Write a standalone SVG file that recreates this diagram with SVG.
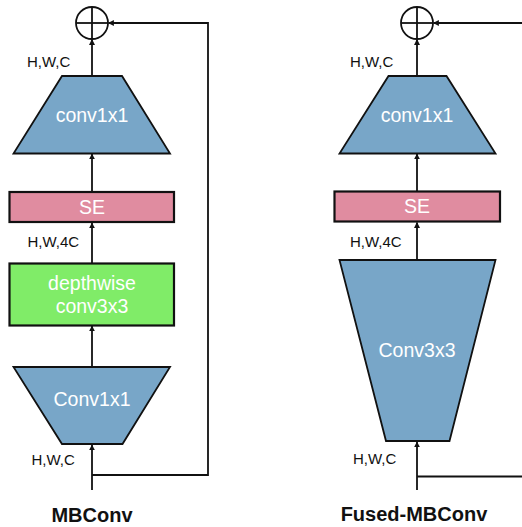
<svg xmlns="http://www.w3.org/2000/svg" width="522" height="527" viewBox="0 0 522 527">
<defs>
<marker id="ah" viewBox="0 0 10 10" refX="9" refY="5" markerWidth="6" markerHeight="6" markerUnits="userSpaceOnUse" orient="auto">
<path d="M0,0 L10,5 L0,10 z" fill="#111"/>
</marker>
<style>
.blk{fill:none;stroke:#111;stroke-width:1.8}
.conn{fill:none;stroke:#111;stroke-width:1.8;marker-end:url(#ah)}
.trap{fill:#78a6c8;stroke:#111;stroke-width:1.8}
.se{fill:#e08ca0;stroke:#111;stroke-width:2.2}
.dw{fill:#80ec68;stroke:#111;stroke-width:2.2}
.lt{font-family:"Liberation Sans",Arial,sans-serif;font-size:19.5px;fill:#fff;text-anchor:middle}
.dim{font-family:"Liberation Sans",Arial,sans-serif;font-size:15px;fill:#111}
.ttl{font-family:"Liberation Sans",Arial,sans-serif;font-size:20px;font-weight:bold;fill:#111;text-anchor:middle}
</style>
</defs>

<g id="connectors">
<line class="conn" x1="92" y1="76" x2="92" y2="39.5"/>
<line class="conn" x1="92" y1="192" x2="92" y2="154"/>
<line class="conn" x1="92" y1="263" x2="92" y2="223"/>
<line class="conn" x1="92" y1="367" x2="92" y2="326"/>
<line class="conn" x1="92" y1="490" x2="92" y2="445"/>
<polyline class="conn" points="92,475 208,475 208,23 108.5,23"/>
<line class="conn" x1="417" y1="76" x2="417" y2="39.5"/>
<line class="conn" x1="417" y1="191" x2="417" y2="154"/>
<line class="conn" x1="417" y1="260" x2="417" y2="222.5"/>
<line class="conn" x1="417" y1="490" x2="417" y2="442"/>
<polyline class="conn" points="417,476.5 530,476.5 530,23 433.5,23"/>
</g>

<g id="add_left">
<circle class="blk" cx="92" cy="23" r="16" fill="#fff"/>
<line class="blk" x1="76" y1="23" x2="108" y2="23"/>
<line class="blk" x1="92" y1="7" x2="92" y2="39"/>
</g>
<g id="conv1x1_top_left">
<polygon class="trap" points="62,76 122,76 170,153.5 13.5,153.5"/>
<text class="lt" x="92" y="122">conv1x1</text>
</g>
<g id="se_left">
<rect class="se" x="9.5" y="192" width="164.5" height="30"/>
<text class="lt" x="92" y="213.5">SE</text>
</g>
<g id="depthwise_left">
<rect class="dw" x="9.5" y="263.5" width="164.5" height="62"/>
<text class="lt" x="92" y="289.5">depthwise</text>
<text class="lt" x="92" y="313">conv3x3</text>
</g>
<g id="conv1x1_bottom_left">
<polygon class="trap" points="13.5,367 170,367 122.5,444 62,444"/>
<text class="lt" x="92" y="406">Conv1x1</text>
</g>
<g id="labels_left">
<text class="dim" x="27" y="67">H,W,C</text>
<text class="dim" x="27.5" y="247" font-size="15.5">H,W,4C</text>
<text class="dim" x="31.5" y="464.5">H,W,C</text>
<text class="ttl" x="92" y="522">MBConv</text>
</g>

<g id="add_right">
<circle class="blk" cx="417" cy="23" r="16" fill="#fff"/>
<line class="blk" x1="401" y1="23" x2="433" y2="23"/>
<line class="blk" x1="417" y1="7" x2="417" y2="39"/>
</g>
<g id="conv1x1_top_right">
<polygon class="trap" points="388.5,76 446.5,76 495.5,153.5 339.5,153.5"/>
<text class="lt" x="417" y="122">conv1x1</text>
</g>
<g id="se_right">
<rect class="se" x="334.5" y="191.5" width="165.5" height="30"/>
<text class="lt" x="417" y="213">SE</text>
</g>
<g id="conv3x3_right">
<polygon class="trap" points="339.5,260 495.5,260 449.5,441 386,441"/>
<text class="lt" x="417" y="356.5">Conv3x3</text>
</g>
<g id="labels_right">
<text class="dim" x="350" y="66.5">H,W,C</text>
<text class="dim" x="350" y="247" font-size="15.5">H,W,4C</text>
<text class="dim" x="353" y="464">H,W,C</text>
<text class="ttl" x="414" y="521" font-size="20.5">Fused-MBConv</text>
</g>
</svg>
